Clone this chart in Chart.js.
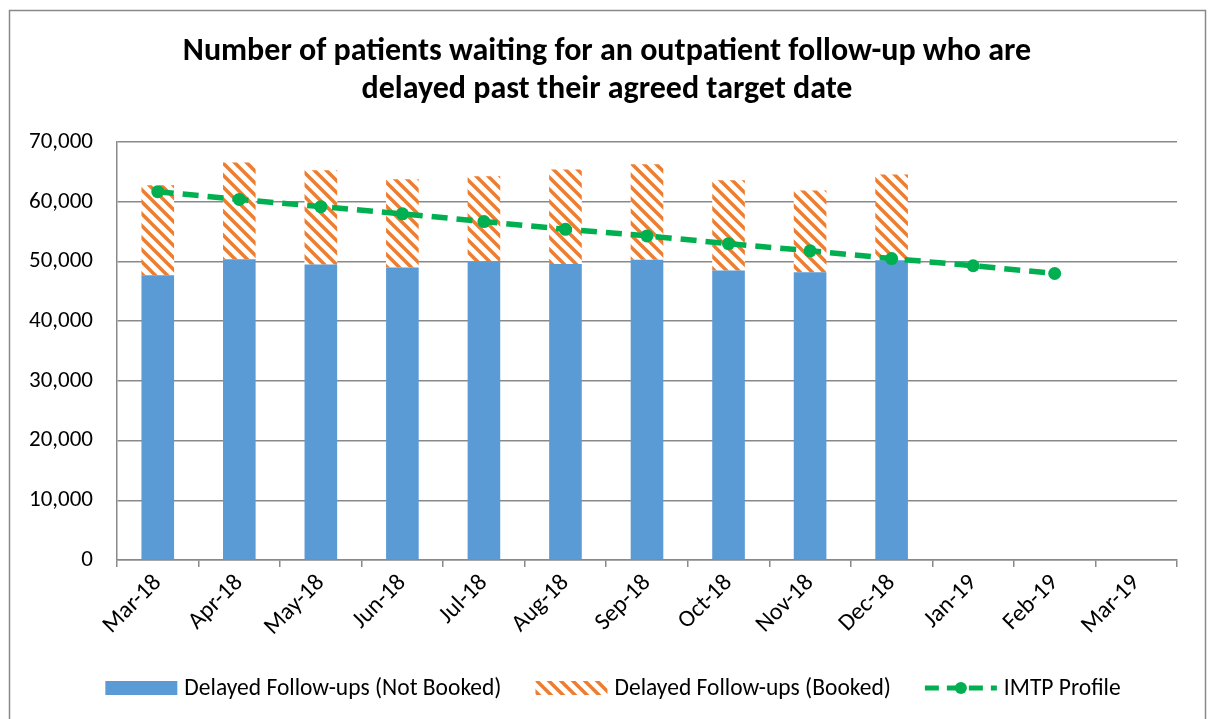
<!DOCTYPE html>
<html>
<head>
<meta charset="utf-8">
<script src="https://cdn.jsdelivr.net/npm/chart.js@4/dist/chart.umd.min.js"></script>
<style>
  html, body { margin: 0; padding: 0; background: #fff; }
  #wrap { width: 1211px; height: 719px; position: relative; }
</style>
</head>
<body>
<div id="wrap"><canvas id="grafico" width="1211" height="719"></canvas></div>
<script>
// Dados
const meses = ['Mar-18', 'Apr-18', 'May-18', 'Jun-18', 'Jul-18', 'Aug-18', 'Sep-18',
               'Oct-18', 'Nov-18', 'Dec-18', 'Jan-19', 'Feb-19', 'Mar-19'];
const naoAgendados = [47700, 50400, 49500, 49000, 50100, 49600, 50300, 48500, 48200, 50200, null, null, null];
const agendados = [15100, 16200, 15800, 14800, 14200, 15800, 16000, 15100, 13700, 14400, null, null, null];
const perfilImtp = [61700, 60400, 59200, 58000, 56700, 55400, 54300, 53000, 51800, 50500, 49300, 48000, null];
const rotulos = ['Delayed Follow-ups (Not Booked)', 'Delayed Follow-ups (Booked)', 'IMTP Profile'];
const tituloLinhas = ['Number of patients waiting for an outpatient follow-up who are',
                      'delayed past their agreed target date'];

const FONTE = 'Carlito, "Open Sans", sans-serif';
const AZUL = '#5B9BD5';
const LARANJA = '#ED7D31';
const VERDE = '#00B050';
const CINZA = '#898989';

// Padrão listrado laranja para a série "Booked"
function criarPadrao() {
    const c = document.createElement('canvas');
    c.width = 12; c.height = 12;
    const g = c.getContext('2d');
    g.fillStyle = '#fff';
    g.fillRect(0, 0, 12, 12);
    g.strokeStyle = LARANJA;
    g.lineWidth = 3.5;
    g.beginPath();
    g.moveTo(-3, -3); g.lineTo(15, 15);
    g.moveTo(-15, -3); g.lineTo(3, 15);
    g.moveTo(9, -3); g.lineTo(27, 15);
    g.stroke();
    return g.createPattern(c, 'repeat');
}

const padrao = criarPadrao();

// Moldura externa + ajuste do centro do título
const moldura = {
    id: 'moldura',
    afterLayout(chart) {
        // o título do original fica centrado um pouco mais à direita
        chart.titleBlock.left = 37;
    },
    beforeDraw(chart) {
        const ctx = chart.ctx;
        ctx.save();
        ctx.fillStyle = '#fff';
        ctx.fillRect(0, 0, chart.width, chart.height);
        ctx.strokeStyle = CINZA;
        ctx.lineWidth = 1.5;
        ctx.strokeRect(9.5, 10.5, 1196, 730);
        ctx.restore();
    }
};

// Legenda desenhada à mão para imitar o estilo do Excel
const legenda = {
    id: 'legenda',
    afterDraw(chart) {
        const ctx = chart.ctx;
        ctx.save();
        ctx.font = '23.5px ' + FONTE;
        ctx.textBaseline = 'middle';
        const amostra = 72, gapTexto = 7, gapItem = 34;
        const larguras = rotulos.map(t => ctx.measureText(t).width);
        let total = 0;
        larguras.forEach(w => total += amostra + gapTexto + w);
        total += gapItem * 2;
        let x = 613 - total / 2;
        const y = 688;
        rotulos.forEach((t, i) => {
            if (i === 0) {
                ctx.fillStyle = AZUL;
                ctx.fillRect(x, y - 7, amostra, 14);
            } else if (i === 1) {
                ctx.fillStyle = padrao;
                ctx.fillRect(x, y - 7, amostra, 14);
            } else {
                ctx.strokeStyle = VERDE;
                ctx.lineWidth = 5;
                ctx.setLineDash([14, 8]);
                ctx.beginPath();
                ctx.moveTo(x, y); ctx.lineTo(x + amostra, y);
                ctx.stroke();
                ctx.setLineDash([]);
                ctx.fillStyle = VERDE;
                ctx.beginPath();
                ctx.arc(x + amostra / 2, y, 6, 0, Math.PI * 2);
                ctx.fill();
            }
            ctx.fillStyle = '#000';
            ctx.fillText(t, x + amostra + gapTexto, y + 1);
            x += amostra + gapTexto + larguras[i] + gapItem;
        });
        ctx.restore();
    }
};

const ctx = document.getElementById('grafico').getContext('2d');

const chart = new Chart(ctx, {
    type: 'bar',
    data: {
        labels: meses,
        datasets: [{
            type: 'line',
            label: rotulos[2],
            data: perfilImtp,
            borderColor: VERDE,
            backgroundColor: VERDE,
            borderWidth: 5.5,
            borderDash: [16, 9],
            pointRadius: 6.5,
            pointBackgroundColor: VERDE,
            pointBorderWidth: 0,
            tension: 0,
            fill: false,
            order: 0
        }, {
            label: rotulos[0],
            data: naoAgendados,
            backgroundColor: AZUL,
            barPercentage: 0.4,
            categoryPercentage: 1,
            order: 1
        }, {
            label: rotulos[1],
            data: agendados,
            backgroundColor: padrao,
            barPercentage: 0.4,
            categoryPercentage: 1,
            order: 1
        }]
    },
    options: {
        responsive: false,
        animation: false,
        layout: {
            padding: { left: 10, right: 34, top: 33, bottom: 70 }
        },
        scales: {
            x: {
                stacked: true,
                offset: true,
                grid: {
                    offset: true,
                    drawOnChartArea: false,
                    drawTicks: true,
                    tickLength: 7,
                    color: CINZA,
                    lineWidth: 1.5
                },
                border: { color: CINZA, width: 1.5 },
                ticks: {
                    color: '#000',
                    font: { family: FONTE, size: 24 },
                    minRotation: 45,
                    maxRotation: 45,
                    autoSkip: false,
                    padding: 2
                },
                afterFit: function(scale) { scale.height = 89; }
            },
            y: {
                stacked: true,
                min: 0,
                max: 70000,
                grid: {
                    color: CINZA,
                    lineWidth: 1.5,
                    drawTicks: false
                },
                border: { color: CINZA, width: 1.5 },
                ticks: {
                    stepSize: 10000,
                    color: '#000',
                    padding: 24,
                    font: { family: FONTE, size: 23 },
                    callback: function(v) { return v.toLocaleString('en-US'); }
                },
                afterFit: function(scale) { scale.width = 107; }
            }
        },
        plugins: {
            legend: { display: false },
            tooltip: { enabled: false },
            title: {
                display: true,
                text: tituloLinhas,
                color: '#000',
                font: { family: FONTE, size: 32, weight: 'bold', lineHeight: 1.19 },
                padding: { top: 0, bottom: 33 }
            }
        }
    },
    plugins: [moldura, legenda]
});
</script>
</body>
</html>
